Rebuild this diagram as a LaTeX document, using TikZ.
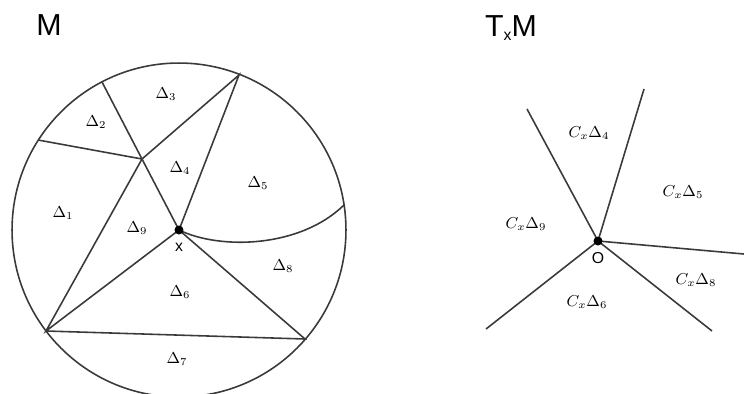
\documentclass[tikz,border=0pt]{standalone}
\usepackage{fontspec}
\setsansfont{Liberation Sans}
\usepackage{amssymb}
\definecolor{edgegray}{HTML}{3A3A3A}

\begin{document}
\begin{tikzpicture}[x=0.02cm, y=-0.02cm,
    edge/.style={draw=edgegray, line width=0.9pt},
    dot/.style={circle, fill=black, inner sep=0pt, minimum size=1.8mm},
    cell/.style={font=\small},
    title/.style={font=\LARGE\sffamily}]
    \useasboundingbox (0,0) rectangle (744,393);
    % Manifold M
    \node[title] (M) at (49,25) {M};
    \coordinate (x) at (179,230);
    \draw[edge] (x) circle [radius=3.34cm];
    % Vertices of the triangulation
    \coordinate (top) at (239,75);
    \coordinate (a) at (142,159);
    \coordinate (uleft) at (102,82);
    \coordinate (left) at (38,140);
    \coordinate (bl) at (46,331);
    \coordinate (br) at (305,339);
    \coordinate (right) at (344,205);
    % Edges
    \draw[edge] (left) -- (a);
    \draw[edge] (uleft) -- (a) -- (x);
    \draw[edge] (a) -- (top) -- (x);
    \draw[edge] (a) -- (bl) -- (x) -- (br) -- (bl);
    \draw[edge] (x) .. controls (220,250) and (300,248) .. (right);
    \node[dot] (xdot) at (x) {};
    \node[font=\small\sffamily] (xlbl) at (179,247) {x};
    % Simplex labels
    \foreach \i/\pos in {1/{(63,213)}, 2/{(96,122)}, 3/{(166,94)}, 4/{(180,168)}, 5/{(258,183)},
                         6/{(180,292)}, 7/{(177,359)}, 8/{(283,266)}, 9/{(137,228)}} {
        \node[cell] (d\i) at \pos {$\Delta_{\i}$};
    }
    % Tangent space
    \node[title] (TM) at (511,28) {T\raisebox{-2.3pt}{\small x}M};
    \coordinate (o) at (598,241);
    \coordinate (r4) at (527,109);
    \coordinate (r5) at (644,89);
    \coordinate (r8) at (744,254);
    \coordinate (r6) at (712,331);
    \coordinate (r9) at (486,329);
    \foreach \r in {r4,r5,r8,r6,r9} {
        \draw[edge] (o) -- (\r);
    }
    \node[dot] (odot) at (o) {};
    \node[font=\small\sffamily] (olbl) at (598,258) {O};
    % Cone labels
    \foreach \i/\pos in {4/{(589,133)}, 5/{(683,192)}, 6/{(587,302)}, 8/{(696,280)}, 9/{(526,224)}} {
        \node[cell] (c\i) at \pos {$C_x\Delta_{\i}$};
    }
\end{tikzpicture}
\end{document}
